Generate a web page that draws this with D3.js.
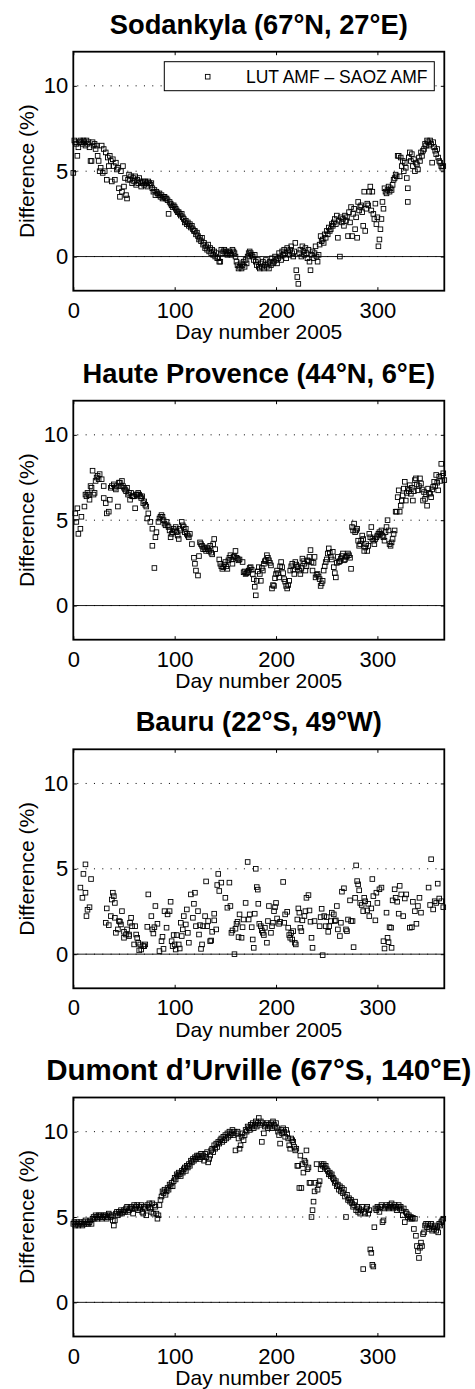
<!DOCTYPE html>
<html><head><meta charset="utf-8">
<script src="https://cdn.jsdelivr.net/npm/d3@7"></script>
<style>
body{margin:0;background:#fff;}
svg{display:block;font-family:"Liberation Sans",Arial,Helvetica,sans-serif;}
</style></head><body>
<svg id="chart" width="475" height="1389"></svg>
<script>
const xTickValues = [0, 100, 200, 300];
const yTickValues = [0, 5, 10];
const gridValues = [0, 5, 10];
const xDomain = [0, 366];
const yDomain = [-2, 12];
const titles = ["Sodankyla (67°N, 27°E)", "Haute Provence (44°N, 6°E)", "Bauru (22°S, 49°W)", "Dumont d’Urville (67°S, 140°E)"];
const xLabel = "Day number 2005";
const yLabel = "Difference (%)";
const legendLabel = "LUT AMF – SAOZ AMF";

const sodankyla = [
[0,4.9],[1,6.8],[2,6.7],[3,6.6],[4,5.9],[5,6.4],[6,6.7],[7,6.8],[8,6.7],[9,6.6],[10,6.8],[11,6.7],[12,6.5],[13,6.8],[14,6.6],[15,6.7],[16,6.4],[17,5.6],[18,5.6],[19,6.7],[20,6.5],[21,6.6],[22,6.3],[23,6.5],[24,5.9],[25,5.6],[26,5.0],[27,5.2],[28,6.5],[29,4.9],[30,6.3],[31,5.0],[32,6.1],[33,4.5],[34,5.8],[35,5.3],[36,5.9],[37,5.6],[38,4.4],[39,5.7],[40,5.3],[41,4.5],[42,5.5],[43,5.1],[44,5.2],[45,4.0],[46,3.5],[47,5.0],[48,3.8],[49,5.3],[50,4.1],[51,4.6],[52,3.6],[53,3.4],[54,4.5],[55,4.8],[56,4.5],[57,4.7],[58,4.3],[59,4.6],[60,4.4],[61,4.7],[62,4.2],[63,4.5],[64,4.3],[65,4.6],[66,4.4],[67,4.1],[68,4.3],[69,4.4],[70,4.2],[71,4.4],[72,4.3],[73,4.1],[74,4.4],[75,4.3],[76,4.2],[77,4.3],[78,4.0],[79,3.8],[80,3.9],[81,3.6],[82,3.8],[83,3.7],[84,3.6],[85,3.7],[86,3.5],[87,3.6],[88,3.4],[89,3.5],[90,3.5],[91,3.4],[92,3.4],[93,3.3],[94,2.5],[95,3.2],[96,3.1],[97,3.0],[98,2.9],[99,3.0],
[100,2.9],[101,2.8],[102,2.7],[103,2.6],[104,2.6],[105,2.5],[106,2.4],[107,2.5],[108,2.3],[109,2.2],[110,2.0],[111,2.1],[112,1.9],[113,2.0],[114,1.8],[115,1.9],[116,1.7],[117,1.8],[118,1.6],[119,1.5],[120,1.5],[121,1.3],[122,1.4],[123,1.2],[124,1.0],[125,1.1],[126,0.9],[127,1.1],[128,0.7],[129,0.8],[130,0.5],[131,0.6],[132,0.4],[133,0.7],[134,0.3],[135,0.5],[136,0.2],[137,0.4],[138,0.1],[139,0.3],[140,0.0],[141,0.2],[142,-0.1],[143,-0.1],[144,-0.3],[145,-0.3],[146,0.4],[147,0.2],[148,0.3],[149,0.4],[150,0.2],[151,0.3],[152,0.1],[153,0.2],[154,0.3],[155,0.2],[156,0.1],[157,0.4],[158,0.3],[159,0.2],[160,0.0],[161,-0.3],[162,-0.5],[163,-0.7],[164,-0.6],[165,-0.4],[166,-0.7],[167,-0.5],[168,-0.3],[169,-0.6],[170,-0.2],[171,-0.4],[172,0.0],[173,0.2],[174,0.3],[175,0.2],[176,0.1],[177,0.0],[178,-0.2],[179,0.1],[180,-0.3],[181,-0.5],[182,-0.2],[183,-0.6],[184,-0.7],[185,-0.4],[186,-0.6],[187,-0.3],[188,-0.7],[189,-0.5],[190,-0.2],[191,-0.6],[192,-0.4],[193,-0.7],[194,-0.3],[195,-0.5],[196,-0.1],[197,-0.4],[198,-0.3],[199,0.0],
[200,-0.2],[201,-0.4],[202,-0.1],[203,0.2],[204,0.0],[205,-0.2],[206,0.3],[207,0.1],[208,0.4],[209,0.2],[210,-0.1],[211,0.5],[212,0.3],[213,0.1],[214,0.4],[215,0.6],[216,0.2],[217,0.0],[218,0.3],[219,0.8],[220,-0.8],[221,-1.2],[222,-1.6],[223,0.2],[224,0.4],[225,0.0],[226,0.6],[227,0.3],[228,0.1],[229,0.5],[230,0.2],[231,-0.1],[232,0.4],[233,-0.3],[234,-0.8],[235,0.1],[236,0.3],[237,-0.1],[238,0.2],[239,0.6],[240,0.0],[241,-0.3],[242,0.1],[243,0.7],[244,1.2],[245,0.9],[246,1.0],[247,0.8],[248,1.3],[249,1.1],[250,1.5],[251,1.3],[252,1.7],[253,1.5],[254,1.6],[255,1.9],[256,1.8],[257,2.0],[258,2.2],[259,1.9],[260,2.4],[261,1.1],[262,2.1],[263,0.0],[264,2.3],[265,2.0],[266,2.2],[267,1.8],[268,2.4],[269,2.1],[270,2.3],[271,1.2],[272,2.6],[273,2.0],[274,2.9],[275,1.2],[276,2.5],[277,2.8],[278,1.6],[279,2.3],[280,1.1],[281,3.2],[282,2.7],[283,2.9],[284,3.0],[285,2.6],[286,1.8],[287,3.8],[288,1.5],[289,2.8],[290,3.1],[291,3.0],[292,3.8],[293,4.1],[294,2.7],[295,3.8],[296,2.5],[297,2.2],[298,3.1],[299,1.9],
[300,2.3],[301,0.6],[302,1.0],[303,1.6],[304,2.2],[305,3.2],[306,2.8],[307,4.0],[308,3.8],[309,3.7],[310,3.9],[311,4.1],[312,3.8],[313,4.0],[314,3.9],[315,4.2],[316,4.5],[317,4.6],[318,4.8],[319,4.7],[320,5.9],[321,5.9],[322,4.7],[323,5.8],[324,5.3],[325,5.6],[326,5.0],[327,5.5],[328,5.2],[329,4.6],[330,3.2],[330,4.0],[331,5.8],[332,6.1],[333,5.6],[334,6.0],[335,5.3],[336,5.7],[337,5.0],[338,5.5],[339,5.4],[340,5.1],[341,5.8],[342,5.6],[343,6.1],[344,5.9],[345,6.2],[346,6.3],[347,6.6],[348,6.5],[349,6.8],[350,6.7],[351,6.5],[352,6.8],[353,6.6],[354,5.5],[355,6.7],[356,6.4],[357,6.2],[358,6.0],[359,6.3],[360,5.8],[361,5.6],[362,5.5],[363,5.3],[364,5.2],[365,5.3]
];

const hauteProvence = [
[2,5.4],[3,4.9],[4,5.7],[5,4.2],[7,4.5],[8,5.2],[11,5.8],[12,6.5],[13,6.4],[14,6.6],[15,6.5],[16,6.2],[17,7.0],[18,6.9],[19,7.9],[20,6.5],[21,6.6],[22,7.3],[23,7.5],[24,7.6],[25,7.4],[26,7.7],[28,7.4],[30,7.0],[30,6.3],[32,6.0],[33,5.4],[35,5.5],[36,6.2],[37,6.9],[38,7.0],[40,7.1],[41,6.9],[42,6.8],[43,7.0],[44,5.8],[45,7.2],[46,7.2],[47,7.0],[48,7.3],[49,7.0],[50,6.9],[51,6.8],[52,6.7],[53,6.9],[54,6.5],[55,6.6],[56,6.2],[57,6.6],[58,6.4],[59,6.4],[60,6.4],[61,5.7],[62,6.5],[63,6.5],[64,6.6],[65,6.5],[66,6.4],[67,6.3],[68,6.4],[69,6.0],[70,6.1],[71,5.9],[72,5.8],[73,5.1],[74,5.4],[76,4.9],[78,4.5],[78,3.5],[80,2.2],[81,4.0],[82,4.3],[84,4.9],[85,5.1],[86,5.2],[87,5.3],[88,5.2],[89,5.0],[90,4.8],[91,4.7],[92,4.9],[93,4.7],[94,4.6],[95,4.4],[96,4.0],[97,4.2],[98,4.3],[99,4.5],[100,4.4],[101,4.6],[102,4.3],[103,4.1],[104,3.9],[105,4.5],[106,4.4],[107,4.9],[108,4.7],[109,4.6],[110,4.3],[111,4.5],[112,4.2],[113,4.1],[114,4.0],[115,4.2],[117,3.6],[119,2.8],[120,2.45],[121,2.05],[123,1.76],[124,2.9],[125,3.7],[126,3.6],[127,3.5],[128,3.3],[129,3.4],[130,3.3],[131,3.2],[132,3.4],[133,3.3],[134,3.2],[135,3.5],[136,3.1],[137,3.0],[138,3.6],[139,3.9],[140,3.3],
[144,2.7],[145,2.45],[146,2.3],[147,2.15],[148,2.25],[149,2.4],[150,2.55],[151,2.3],[152,2.15],[153,2.65],[154,2.8],[155,2.95],[156,2.7],[157,2.45],[158,2.85],[159,2.9],[160,3.2],[161,2.8],[162,2.75],[163,2.65],[164,2.7],[167,2.55],[168,1.95],[169,2.0],[170,1.85],[171,1.9],[172,1.95],[173,2.05],[174,2.2],[175,2.25],[176,2.1],[177,1.85],[178,1.55],[179,1.1],[180,0.6],[181,1.45],[182,2.0],[183,2.25],[184,1.85],[185,1.45],[186,2.2],[187,2.05],[188,2.45],[189,2.6],[190,2.65],[191,2.95],[192,2.8],[193,2.65],[194,2.5],[195,2.35],[196,1.0],[197,1.2],[198,1.15],[199,1.6],[200,1.85],[201,2.05],[202,1.9],[203,1.65],[204,2.3],[205,2.55],[206,2.25],[207,1.9],[208,1.55],[209,1.4],[210,1.15],[211,1.0],[212,1.2],[213,1.45],[214,2.05],[215,2.3],[216,2.45],[217,2.1],[218,1.85],[219,2.55],[220,2.4],[221,2.25],[222,2.3],[223,2.05],[224,1.85],[225,2.2],[226,2.75],[227,2.6],[228,2.45],[229,2.05],[230,2.3],[231,2.65],[232,2.6],[233,2.85],[234,3.25],[235,2.55],[236,2.05],[237,2.5],[238,2.85],[239,1.65],[240,1.8],[241,1.85],[242,1.7],[243,1.55],[244,1.15],[245,1.3],[246,1.45],[247,2.05],[248,2.3],[249,2.55],[250,2.7],[251,3.05],[252,3.35],[253,3.1],[254,2.85],[255,2.7],[256,3.15],[257,2.25],[258,1.9],[259,1.65],[260,2.5],[261,2.85],[262,2.55],[263,2.6],[264,2.75],[265,2.9],[266,3.05],[267,2.65],[268,2.7],[269,2.85],[270,2.9],[271,3.05],[272,2.95],[273,2.8],[274,2.15],
[275,4.6],[276,4.4],[277,4.8],[278,4.3],[279,4.4],[280,4.5],[281,3.8],[282,3.5],[283,3.6],[284,3.8],[285,4.1],[286,3.9],[287,3.2],[288,3.4],[289,3.6],[290,3.2],[291,3.5],[292,4.2],[293,4.0],[294,4.6],[295,3.9],[296,3.8],[297,3.6],[298,3.9],[299,4.0],[300,4.1],[301,4.2],[302,4.3],[303,4.2],[304,4.4],[305,4.1],[306,4.0],[307,3.8],[308,4.3],[309,4.6],[310,5.0],[311,4.4],[312,3.6],[313,3.5],[314,3.7],[315,3.9],[316,4.2],[317,4.4],[318,5.5],[319,5.5],[320,6.35],[321,6.75],[322,5.5],[323,5.85],[324,6.15],[325,6.45],[326,6.85],[327,7.25],[328,6.15],[329,6.6],[330,6.85],[331,6.7],[332,7.05],[333,6.55],[334,6.9],[335,6.15],[336,6.7],[337,7.35],[338,7.45],[339,7.1],[340,6.75],[341,7.0],[342,7.45],[343,7.15],[344,6.8],[345,6.15],[346,6.65],[347,6.25],[348,6.5],[349,5.85],[350,6.85],[351,6.6],[352,6.55],[353,6.35],[354,6.8],[355,6.95],[356,7.25],[357,7.0],[358,7.65],[359,7.2],[360,6.75],[361,7.55],[362,7.3],[363,8.3],[364,7.6],[365,7.75],[366,7.35]
];

const bauru = [
[7,3.9],[9,3.3],[10,4.7],[12,5.26],[12,3.6],[13,2.23],[14,2.6],[16,2.75],[17.5,4.4],[32,1.84],[33,2.68],[35,1.7],[37,2.23],[38,3.2],[39,3.6],[40,3.4],[41,3.0],[41,2.13],[42,1.25],[44,1.45],[45,1.94],[46,1.9],[47,1.74],[48,2.52],[50,0.96],[50,1.31],[52,1.15],[53,1.45],[55,1.06],[55,1.15],[56,1.84],[57,2.13],[58,1.64],[61,1.64],[62,1.15],[63,0.96],[60,0.57],[64,0.67],[65,0.22],[66,0.57],[67,0.27],[69,0.47],[70,0.47],[71,0.57],[73,1.6],[74,3.5],[77,2.23],[78,1.45],[79,1.21],[80,1.58],[81,2.82],[83,1.78],[85,0.18],[87,0.76],[88,1.02],[89,0.31],[90,2.52],[92,1.55],[93,2.33],[95,2.52],[96,3.07],[97,0.76],[98,0.47],[99,1.12],[100,0.57],[101,0.27],[102,1.12],[104,0.57],[105,0.33],[106,1.84],[107,1.06],[108,1.45],[109,2.23],[111,1.74],[112,2.62],[113,1.25],[114,0.67],[116,3.5],[118,2.13],[119,2.95],[120,3.6],[121,1.64],[123,2.52],[124,1.15],[125,1.7],[126,0.31],[127,0.57],[128,1.64],[130,2.23],[131,4.26],[132,1.64],[133,1.94],[135,0.76],[136,0.8],[137,1.31],[139,1.98],[139,2.37],[141,1.45],[142,4.05],[143,4.7],[144,3.7],[146,4.19],[150,3.3],[152,2.72],[154,4.19],[155,2.82],[156,1.25],[157,1.39],[159,0],[160,1.49],[161,1.78],[162,1.9],[163,1.0],[164,2.33],[166,0.96],[167,1.58],[168,2.03],[170,3.0],[172,5.4],[173,2.03],[174,2.33],[176,1.58],[177,0.86],[178,0.37],[179,2.37],[180,5.0],[181,3.93],[182,3.78],[182.5,2.95],[183.5,1.78],[185,1.64],[186,1.39],[187,1.25],[188,1.12],[189,1.55],[191,0.67],[192,1.94],[193,2.82],[195,1.25],[196,1.64],[197,1.84],[198,2.52],[199,2.76],
[200,3.0],[201,2.09],[203,1.78],[204,1.9],[207,4.23],[208,1.84],[209,2.33],[211,2.48],[212,1.55],[213,1.12],[214,0.96],[215,1.25],[216,0.86],[217,1.35],[218.5,0.67],[219.5,0.57],[221,2.03],[222,2.68],[223,2.43],[224,1.55],[225,1.35],[226,1.98],[228,2.23],[229,2.52],[230,3.3],[232,3.46],[233,2.56],[234,1.9],[235,0.96],[236,0.37],[238,1.94],[243,1.64],[244,2.17],[245,2.66],[246,-0.06],[247.5,2.23],[249,1.64],[250,2.17],[251.5,1.31],[252.5,1.64],[254,1.94],[255,2.43],[257,2.33],[258,1.94],[259,1.98],[260,2.82],[261,1.45],[263,1.06],[264,1.84],[265,3.66],[267,3.86],[269,1.45],[270,1.35],[271,2.03],[273,3.15],[274,1.94],[275.5,1.94],[276.5,0.41],[278,3.3],[279,5.2],[280,4.28],[281,4.09],[282,3.74],[283,3.0],[284.5,2.88],[286,2.52],[287,3.3],[288,3.1],[290,2.56],[291,2.95],[292,2.23],[294,2.68],[295,4.4],[296,3.4],[298,1.98],[299,3.6],[300,3.0],[302,3.8],[304,3.9],[306,0.76],[307,0.33],[309,2.43],[310,0.96],[311,0.7],[312,1.58],[313.5,1.55],[314,0.37],[315,3.15],[317,3.8],[318,3.3],[319.5,3.07],[321,2.37],[322,4.0],[323.5,3.5],[325.5,2.23],[327,3.26],[328.5,3.5],[332,1.55],[334,1.58],[335,3.07],[337,2.52],[338.5,1.78],[340,2.82],[341.5,3.3],[343,2.43],[350.5,3.9],[352,2.88],[353,5.56],[355,2.62],[356.5,3.1],[358,3.0],[359.5,4.13],[361,3.26],[363,3.1],[365,2.75]
];

const dumont = [
[0,4.6],[1,4.7],[2,4.5],[3,4.6],[4,4.7],[5,4.5],[6,4.6],[7,4.7],[8,4.6],[9,4.5],[10,4.7],[11,4.6],[12,4.8],[13,4.6],[14,4.7],[15,4.6],[16,4.7],[17,4.8],[18,4.6],[19,4.9],[20,5.0],[21,4.9],[22,5.1],[23,5.0],[24,4.9],[25,5.1],[26,5.0],[27,5.1],[28,4.9],[29,5.0],[30,5.1],[31,5.0],[32,5.1],[33,4.9],[34,5.0],[35,5.2],[36,5.1],[37,5.0],[38,5.1],[39,4.8],[40,4.5],[41,4.8],[42,5.2],[43,5.3],[44,5.1],[45,5.3],[46,5.2],[47,5.4],[48,5.2],[49,5.3],[50,5.4],[51,5.3],[52,5.5],[53,5.6],[54,5.3],[55,5.4],[56,5.5],[57,5.6],[58,5.5],[59,5.2],[60,5.7],[61,5.5],[62,5.6],[63,5.7],[64,5.4],[65,5.6],[66,5.5],[67,5.7],[68,5.3],[69,5.2],[70,5.6],[71,5.5],[72,5.1],[73,5.7],[74,5.6],[75,5.8],[76,5.5],[77,5.3],[78,5.8],[79,5.2],[80,5.7],[81,5.6],[82,5.2],[83,4.9],[84,5.1],[85,5.7],[86,6.0],[87,6.2],[88,6.5],[89,6.4],[90,6.6],[91,6.3],[92,6.5],[93,6.7],[94,6.6],[95,6.9],[96,6.8],[97,7.0],[98,6.8],[99,7.1],
[100,7.3],[101,7.2],[102,7.5],[103,7.4],[104,7.6],[105,7.5],[106,7.4],[107,7.7],[108,7.6],[109,7.8],[110,7.9],[111,7.7],[112,8.0],[113,7.9],[114,8.1],[115,8.0],[116,8.3],[117,8.2],[118,8.4],[119,8.3],[120,8.5],[121,8.4],[122,8.6],[123,8.5],[124,8.6],[125,8.4],[126,8.7],[127,8.5],[128,8.6],[129,8.3],[130,8.7],[131,8.5],[132,8.8],[133,8.2],[134,8.4],[135,8.6],[136,8.9],[137,9.0],[138,8.8],[139,9.2],[140,9.0],[141,9.3],[142,9.1],[143,9.4],[144,9.3],[145,9.5],[146,9.6],[147,9.4],[148,9.7],[149,9.5],[150,9.8],[151,9.6],[152,9.9],[153,9.7],[154,10.0],[155,9.8],[156,9.9],[157,10.1],[158,9.8],[159,10.0],[160,8.9],[161,9.9],[162,10.0],[163,9.6],[164,9.0],[165,9.2],[166,9.7],[167,9.9],[168,9.5],[169,9.8],[170,10.1],[171,10.0],[172,10.3],[173,10.2],[174,10.1],[175,10.4],[176,10.3],[177,10.5],[178,10.2],[179,10.4],[180,10.6],[181,10.3],[182,10.5],[183,10.8],[184,10.4],[185,10.6],[186,9.4],[187,10.5],[188,9.9],[189,10.3],[190,10.4],[191,10.5],[192,10.2],[193,10.4],[194,10.3],[195,10.5],[196,10.2],[197,10.6],[198,10.4],[199,10.3],
[200,10.5],[201,10.2],[202,10.0],[203,9.8],[204,9.3],[205,10.1],[206,9.9],[207,10.2],[208,10.0],[209,9.7],[210,10.1],[211,9.9],[212,9.6],[213,9.2],[214,9.0],[215,9.6],[216,9.5],[217,9.4],[218,9.1],[219,8.9],[220,9.0],[221,8.0],[222,8.0],[223,6.7],[224,8.6],[225,6.7],[226,8.1],[227,7.6],[228,8.3],[229,8.2],[230,8.9],[231,7.8],[232,7.9],[233,7.0],[234,7.0],[235,5.0],[236,5.4],[237,5.9],[238,6.5],[239,7.0],[240,8.1],[241,6.6],[242,6.9],[243,7.1],[244,7.8],[245,8.1],[246,8.0],[247,8.1],[248,7.9],[249,8.0],[250,7.8],[251,7.7],[252,7.5],[253,7.6],[254,7.4],[255,7.5],[256,7.3],[257,7.2],[258,7.0],[259,7.1],[260,6.8],[261,6.9],[262,6.6],[263,6.8],[264,6.5],[265,6.7],[266,6.4],[267,6.6],[268,6.2],[269,5.0],[270,6.3],[271,6.0],[272,6.1],[273,5.9],[274,6.0],[275,5.8],[276,5.6],[277,5.7],[278,5.9],[279,5.4],[280,5.6],[281,5.3],[282,5.5],[283,5.2],[284,5.4],[285,5.6],[286,1.95],[287,5.3],[288,5.2],[289,5.5],[290,5.6],[291,5.2],[292,5.4],[293,3.1],[294,2.9],[295,2.2],[296,2.1],[297,4.4],[298,5.5],[299,5.4],
[300,5.6],[301,5.5],[302,5.3],[303,5.6],[304,5.7],[305,4.7],[306,4.8],[307,5.5],[308,5.6],[309,5.7],[310,5.6],[311,5.5],[312,5.7],[313,5.6],[314,5.8],[315,5.6],[316,5.5],[317,5.7],[318,5.6],[319,5.4],[320,5.6],[321,5.7],[322,5.5],[323,5.6],[324,5.4],[325,5.1],[326,5.5],[327,4.7],[328,5.3],[329,5.2],[330,5.0],[331,5.1],[332,4.9],[333,5.0],[334,4.9],[335,4.95],[336,4.3],[337,4.9],[338,3.9],[339,3.3],[340,3.0],[341,2.6],[342,3.2],[343,3.5],[344,3.3],[345,4.0],[346,4.1],[347,4.5],[348,4.6],[349,4.4],[350,4.6],[351,4.3],[352,4.5],[353,4.6],[354,4.2],[355,4.4],[356,4.3],[357,4.5],[358,4.2],[359,4.4],[360,4.1],[361,4.6],[362,4.5],[363,4.7],[364,4.8],[365,4.9]
];

const series = [sodankyla, hauteProvence, bauru, dumont];

// layout
const L = 73.3, W = 371, H = 239;
const tops = [51.7, 400.7, 749.3, 1097.5];
const titleSizes = [27.3, 27.3, 27.3, 29.5];
const M = 4.6; // marker side

const svg = d3.select("#chart");

series.forEach((data, i) => {
  const top = tops[i];
  const x = d3.scaleLinear().domain(xDomain).range([L, L + W]);
  const y = d3.scaleLinear().domain(yDomain).range([top + H, top]);
  const g = svg.append("g");

  // dotted grid
  g.selectAll("line.grid").data(gridValues).join("line")
    .attr("class", "grid")
    .attr("x1", L).attr("x2", L + W)
    .attr("y1", d => y(d)).attr("y2", d => y(d))
    .attr("stroke", "#000").attr("stroke-width", 1)
    .attr("stroke-dasharray", "1,7.33").attr("stroke-dashoffset", 4.33);

  // zero line
  g.append("line")
    .attr("x1", L).attr("x2", L + W)
    .attr("y1", y(0)).attr("y2", y(0))
    .attr("stroke", "#000").attr("stroke-width", 0.9);

  // markers
  g.selectAll("rect.pt").data(data).join("rect")
    .attr("class", "pt")
    .attr("x", d => x(d[0]) - M / 2).attr("y", d => y(d[1]) - M / 2)
    .attr("width", M).attr("height", M)
    .attr("fill", "none").attr("stroke", "#000").attr("stroke-width", 0.9);

  // axes
  const styleAxis = sel => {
    sel.select(".domain").remove();
    sel.attr("font-size", 22).attr("font-family", null);
    sel.selectAll(".tick line").attr("stroke", "#000").attr("stroke-width", 1);
    sel.selectAll(".tick text").attr("fill", "#000");
  };
  g.append("g").attr("transform", `translate(0,${top + H})`)
    .call(d3.axisBottom(x).tickValues(xTickValues).tickSizeInner(-3.5).tickSizeOuter(0).tickPadding(11.5))
    .call(styleAxis);
  g.append("g").attr("transform", `translate(0,${top})`)
    .call(d3.axisTop(x).tickValues(xTickValues).tickSizeInner(-3.5).tickSizeOuter(0).tickFormat(() => ""))
    .call(styleAxis);
  g.append("g").attr("transform", `translate(${L},0)`)
    .call(d3.axisLeft(y).tickValues(yTickValues).tickSizeInner(-3.5).tickSizeOuter(0).tickPadding(5))
    .call(styleAxis);
  g.append("g").attr("transform", `translate(${L + W},0)`)
    .call(d3.axisRight(y).tickValues(yTickValues).tickSizeInner(-3.5).tickSizeOuter(0).tickFormat(() => ""))
    .call(styleAxis);

  // frame
  g.append("rect").attr("x", L).attr("y", top).attr("width", W).attr("height", H)
    .attr("fill", "none").attr("stroke", "#000").attr("stroke-width", 1.8);

  // title
  g.append("text").attr("x", L + W / 2).attr("y", top - 18)
    .attr("text-anchor", "middle").attr("font-weight", "bold")
    .attr("font-size", titleSizes[i]).text(titles[i]);

  // axis labels
  g.append("text").attr("x", L + W / 2).attr("y", top + H + 48.5)
    .attr("text-anchor", "middle").attr("font-size", 21).text(xLabel);
  g.append("text").attr("transform", `translate(34,${top + H / 2}) rotate(-90)`)
    .attr("text-anchor", "middle").attr("font-size", 21).text(yLabel);

  if (i === 0) {
    const lg = g.append("g");
    lg.append("rect").attr("x", 164.3).attr("y", 61.7).attr("width", 270).attr("height", 29)
      .attr("fill", "#fff").attr("stroke", "#000").attr("stroke-width", 1);
    lg.append("rect").attr("x", 207.7 - M / 2).attr("y", 76.7 - M / 2).attr("width", M).attr("height", M)
      .attr("fill", "none").attr("stroke", "#000").attr("stroke-width", 0.9);
    lg.append("text").attr("x", 246).attr("y", 83.2).attr("font-size", 17.5).text(legendLabel);
  }
});
</script>
</body></html>
